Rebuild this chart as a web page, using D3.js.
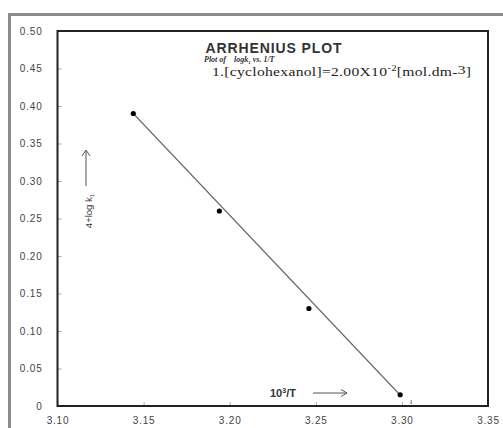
<!DOCTYPE html>
<html>
<head>
<meta charset="utf-8">
<script src="https://cdn.jsdelivr.net/npm/d3@7"></script>
<style>
  html, body { margin: 0; padding: 0; background: #fff; }
  svg { display: block; }
  text { white-space: pre; }
</style>
</head>
<body>
<script>
// Arrhenius data: 10^3/T against 4 + log k1
const invT = [3.144, 3.194, 3.246, 3.299];
const logK = [0.39, 0.26, 0.13, 0.015];
const pointLabels = ["", "", "", "1"];

// Straight line drawn through the points
const fitX = [3.144, 3.298];
const fitY = [0.39, 0.017];

const xTicks = [3.10, 3.15, 3.20, 3.25, 3.30, 3.35];
const xTickLabels = ["3.10", "3.15", "3.20", "3.25", "3.30", "3.35"];
const yTicks = [0, 0.05, 0.10, 0.15, 0.20, 0.25, 0.30, 0.35, 0.40, 0.45, 0.50];
const yTickLabels = ["0", "0.05", "0.10", "0.15", "0.20", "0.25", "0.30", "0.35", "0.40", "0.45", "0.50"];

const W = 503, H = 428;
const svg = d3.select("body").append("svg").attr("width", W).attr("height", H);

// outer frame
svg.append("rect")
  .attr("x", 9.5).attr("y", 14.5).attr("width", 520).attr("height", 430)
  .attr("fill", "#fff").attr("stroke", "#8c8c8c").attr("stroke-width", 3);

const x = d3.scaleLinear().domain([3.10, 3.35]).range([57.5, 488]);
const y = d3.scaleLinear().domain([0, 0.5]).range([406, 31]);

// axes
const yAxis = d3.axisLeft(y).tickValues(yTicks)
  .tickFormat((d, i) => yTickLabels[i]).tickSize(-4).tickPadding(15);
const xAxis = d3.axisBottom(x).tickValues(xTicks)
  .tickFormat((d, i) => xTickLabels[i]).tickSize(-4).tickPadding(11);

const gy = svg.append("g").attr("transform", "translate(57.5,0)").call(yAxis);
const gx = svg.append("g").attr("transform", "translate(0,406)").call(xAxis);
[gx, gy].forEach(g => {
  g.select(".domain").remove();
  g.selectAll(".tick line").attr("stroke", "#aaa").attr("stroke-width", 1);
  g.selectAll(".tick text")
    .attr("fill", "#444")
    .style("font-family", "Liberation Sans, Arial, sans-serif")
    .style("font-size", "10px")
    .style("letter-spacing", "0.8px");
});

// plot frame
svg.append("rect")
  .attr("x", x(3.10)).attr("y", y(0.5))
  .attr("width", x(3.35) - x(3.10)).attr("height", y(0) - y(0.5))
  .attr("fill", "none").attr("stroke", "#222").attr("stroke-width", 2);

// fitted line
svg.append("path")
  .datum(fitX.map((v, i) => [v, fitY[i]]))
  .attr("d", d3.line().x(d => x(d[0])).y(d => y(d[1])))
  .attr("fill", "none").attr("stroke", "#666").attr("stroke-width", 1.1);

// data points
const pts = invT.map((v, i) => ({ x: v, y: logK[i], label: pointLabels[i] }));
svg.append("g").selectAll("circle").data(pts).join("circle")
  .attr("cx", d => x(d.x)).attr("cy", d => y(d.y)).attr("r", 2.6)
  .attr("fill", "#000");
svg.append("g").selectAll("text").data(pts.filter(d => d.label)).join("text")
  .attr("x", d => x(d.x) + 9).attr("y", d => y(d.y) + 9)
  .text(d => d.label)
  .style("font-family", "Liberation Serif, serif").style("font-size", "7px")
  .attr("fill", "#333");

// titles
svg.append("text")
  .attr("x", 274).attr("y", 53).attr("text-anchor", "middle")
  .style("font-family", "Liberation Sans, Arial, sans-serif")
  .style("font-size", "14px").style("font-weight", "bold")
  .style("letter-spacing", "0.9px")
  .attr("fill", "#333")
  .text("ARRHENIUS PLOT");

const sub = svg.append("text")
  .attr("x", 204).attr("y", 62)
  .style("font-family", "Liberation Serif, serif")
  .style("font-size", "8px").style("font-style", "italic").style("font-weight", "bold")
  .attr("fill", "#333");
sub.append("tspan").text("Plot of    logk");
sub.append("tspan").attr("dy", 2).style("font-size", "5px").text("1");
sub.append("tspan").attr("dy", -2).text(" vs. 1/T");

// concentration note, set in a widened serif
const conc = svg.append("text")
  .attr("transform", "translate(212,76) scale(1.2,1)")
  .style("font-family", "Liberation Serif, serif")
  .style("font-size", "13px")
  .style("letter-spacing", "0.25px")
  .attr("fill", "#222");
conc.append("tspan").text("1.[cyclohexanol]=2.00X10");
conc.append("tspan").attr("dy", -5).style("font-size", "9px").text("-2");
conc.append("tspan").attr("dy", 5).text("[mol.dm-");
conc.append("tspan").attr("dy", -2).text("3");
conc.append("tspan").attr("dy", 2).text("]");

// y-axis caption with arrow
const arrowStroke = "#555";
svg.append("text")
  .attr("transform", "translate(92,211) rotate(-90)")
  .attr("text-anchor", "middle")
  .style("font-family", "Liberation Sans, Arial, sans-serif")
  .style("font-size", "9.5px")
  .attr("fill", "#333")
  .call(t => {
    t.append("tspan").text("4+log k");
    t.append("tspan").attr("dy", 2).style("font-size", "6px").text("1");
  });
svg.append("line").attr("x1", 86).attr("y1", 186).attr("x2", 86).attr("y2", 151)
  .attr("stroke", arrowStroke).attr("stroke-width", 1);
svg.append("path").attr("d", "M82,156 L86,150 L90,156")
  .attr("fill", "none").attr("stroke", arrowStroke).attr("stroke-width", 1);

// x-axis caption with arrow
const xc = svg.append("text")
  .attr("x", 270).attr("y", 397)
  .style("font-family", "Liberation Sans, Arial, sans-serif")
  .style("font-size", "11px").style("font-weight", "bold")
  .attr("fill", "#333");
xc.append("tspan").text("10");
xc.append("tspan").attr("dy", -4).style("font-size", "7px").text("3");
xc.append("tspan").attr("dy", 4).text("/T");
svg.append("line").attr("x1", 313).attr("y1", 393).attr("x2", 347).attr("y2", 393)
  .attr("stroke", arrowStroke).attr("stroke-width", 1);
svg.append("path").attr("d", "M341,389.5 L347,393 L341,396.5")
  .attr("fill", "none").attr("stroke", arrowStroke).attr("stroke-width", 1);
</script>
</body>
</html>
